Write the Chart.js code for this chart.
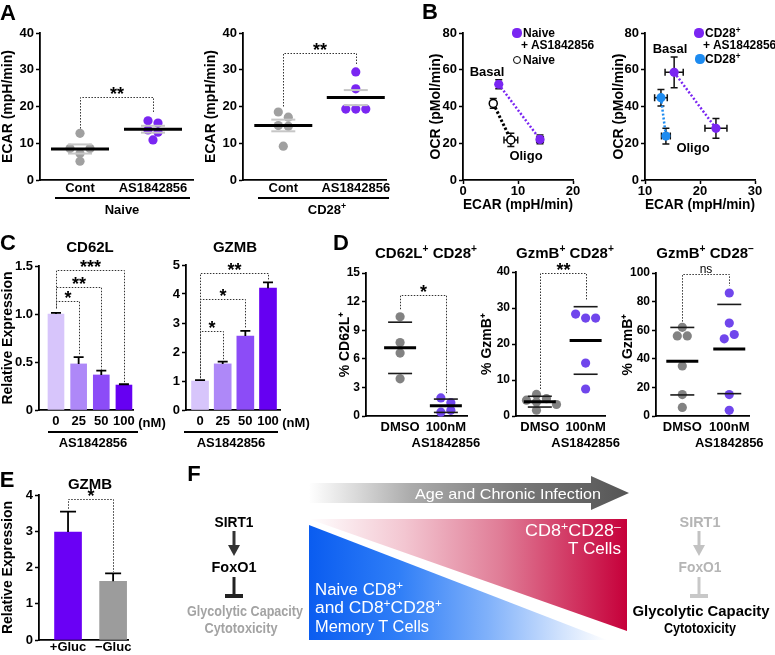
<!DOCTYPE html>
<html>
<head>
<meta charset="utf-8">
<script src="https://cdn.jsdelivr.net/npm/chart.js@4.4.1/dist/chart.umd.min.js"></script>
<style>
  body { margin: 0; background: #fff; }
  #fig { position: relative; width: 775px; height: 655px; overflow: hidden; font-family: "Liberation Sans", Arial, Helvetica, sans-serif; color: #000; }
  canvas { position: absolute; }
  .t { position: absolute; white-space: nowrap; line-height: 1; font-weight: bold; }
  .ul { position: absolute; height: 2px; background: #000; }
  .dot { position: absolute; border-radius: 50%; box-sizing: border-box; }
  sup { font-size: 68%; line-height: 0; vertical-align: 0.5em; }
</style>
</head>
<body>
<div id="fig">
  <canvas id="a1"></canvas><canvas id="a2"></canvas>
  <canvas id="b1"></canvas><canvas id="b2"></canvas>
  <canvas id="c1"></canvas><canvas id="c2"></canvas>
  <canvas id="d1"></canvas><canvas id="d2"></canvas><canvas id="d3"></canvas>
  <canvas id="e1"></canvas>

  <!-- F: schematic -->
  <svg width="775" height="655" style="position:absolute;left:0;top:0" font-family="Liberation Sans, Arial, sans-serif">
    <defs>
      <linearGradient id="gArrow" gradientUnits="userSpaceOnUse" x1="309" y1="0" x2="629" y2="0">
        <stop offset="0" stop-color="#ffffff"/><stop offset="0.15" stop-color="#d9d9d9"/>
        <stop offset="0.32" stop-color="#ababab"/><stop offset="0.64" stop-color="#7a7a7a"/>
        <stop offset="1" stop-color="#555555"/>
      </linearGradient>
      <linearGradient id="gBlue" gradientUnits="userSpaceOnUse" x1="309" y1="0" x2="607" y2="0">
        <stop offset="0" stop-color="#0a5cf0"/><stop offset="0.3" stop-color="#2f7ef7"/>
        <stop offset="0.6" stop-color="#80b1fa"/><stop offset="0.85" stop-color="#d2e3fd"/>
        <stop offset="1" stop-color="#ffffff"/>
      </linearGradient>
      <linearGradient id="gRed" gradientUnits="userSpaceOnUse" x1="309" y1="0" x2="627" y2="0">
        <stop offset="0" stop-color="#ffffff"/><stop offset="0.3" stop-color="#f3c6d1"/>
        <stop offset="0.6" stop-color="#e07d97"/><stop offset="1" stop-color="#c6003a"/>
      </linearGradient>
    </defs>
    <polygon points="309,483 591,483 591,476 629,493 591,510 591,503 309,503" fill="url(#gArrow)"/>
    <text x="508" y="498.5" fill="#fff" font-size="15" text-anchor="middle" textLength="186" lengthAdjust="spacingAndGlyphs">Age and Chronic Infection</text>

    <polygon points="309,519 627,519 627,631" fill="url(#gRed)"/>
    <polygon points="309,525 309,640 607,640" fill="url(#gBlue)"/>
    <text x="621" y="535.7" fill="#fff" font-size="16" text-anchor="end" textLength="96" lengthAdjust="spacingAndGlyphs">CD8<tspan dy="-6" font-size="11">+</tspan><tspan dy="6">CD28</tspan><tspan dy="-6" font-size="11">&#8211;</tspan></text>
    <text x="621" y="553.7" fill="#fff" font-size="16" text-anchor="end" textLength="53" lengthAdjust="spacingAndGlyphs">T Cells</text>
    <text x="315" y="594.7" fill="#fff" font-size="16" textLength="88" lengthAdjust="spacingAndGlyphs">Naive CD8<tspan dy="-6" font-size="11">+</tspan></text>
    <text x="315" y="612.7" fill="#fff" font-size="16" textLength="127" lengthAdjust="spacingAndGlyphs">and CD8<tspan dy="-6" font-size="11">+</tspan><tspan dy="6">CD28</tspan><tspan dy="-6" font-size="11">+</tspan></text>
    <text x="315" y="631.7" fill="#fff" font-size="16" textLength="114" lengthAdjust="spacingAndGlyphs">Memory T Cells</text>

    <!-- left pathway -->
    <g font-weight="bold" font-size="15" text-anchor="middle">
      <text x="234" y="527.4" fill="#000" textLength="39" lengthAdjust="spacingAndGlyphs">SIRT1</text>
      <line x1="234" y1="531" x2="234" y2="546" stroke="#333" stroke-width="3"/>
      <polygon points="228,545 240,545 234,556" fill="#333"/>
      <text x="234" y="572.4" fill="#000" textLength="45" lengthAdjust="spacingAndGlyphs">FoxO1</text>
      <line x1="234" y1="577" x2="234" y2="595" stroke="#222" stroke-width="3"/>
      <rect x="225" y="594" width="18" height="4" fill="#222"/>
      <text x="245" y="616.4" fill="#a3a3a3" textLength="116" lengthAdjust="spacingAndGlyphs">Glycolytic Capacity</text>
      <text x="241" y="633.4" fill="#a3a3a3" textLength="73" lengthAdjust="spacingAndGlyphs">Cytotoxicity</text>

      <!-- right pathway -->
      <text x="700" y="527.4" fill="#b5b5b5" textLength="41" lengthAdjust="spacingAndGlyphs">SIRT1</text>
      <line x1="699" y1="531" x2="699" y2="546" stroke="#c2c2c2" stroke-width="3"/>
      <polygon points="693,545 705,545 699,556" fill="#c2c2c2"/>
      <text x="700" y="572.4" fill="#b5b5b5" textLength="43" lengthAdjust="spacingAndGlyphs">FoxO1</text>
      <line x1="699" y1="577" x2="699" y2="595" stroke="#c8c8c8" stroke-width="3"/>
      <rect x="690" y="594" width="18" height="4" fill="#c8c8c8"/>
      <text x="701" y="616.4" fill="#000" textLength="137" lengthAdjust="spacingAndGlyphs">Glycolytic Capacity</text>
      <text x="700" y="633.4" fill="#000" textLength="72" lengthAdjust="spacingAndGlyphs">Cytotoxicity</text>
    </g>
  </svg>
</div>

<script>
// ---- data ----
// A: ECAR per sample
const aGroups = ['Cont', 'AS1842856'];
const aNaiveCont = [12.7, 7.2, 8.6, 8.6, 5.1];
const aNaiveAS = [16.1, 15.5, 13.6, 13.0, 10.9];
const aCD28Cont = [18.5, 17.1, 14.8, 14.6, 9.2];
const aCD28AS = [29.4, 24.8, 19.3, 19.3, 19.3];

// B: ECAR (x) vs OCR (y), basal then oligo, with errors
const bNaiveASX = [6.5, 14.0], bNaiveASY = [52.1, 22.1], bNaiveASEx = [0.3, 0.6], bNaiveASEy = [2.5, 2.4];
const bNaiveX = [5.5, 8.7], bNaiveY = [41.7, 21.8], bNaiveEx = [0.3, 1.25], bNaiveEy = [2.7, 3.6];
const bCD28ASX = [15.3, 22.9], bCD28ASY = [58.6, 28.1], bCD28ASEx = [1.65, 2.0], bCD28ASEy = [8.4, 5.4];
const bCD28X = [12.9, 13.8], bCD28Y = [44.8, 23.9], bCD28Ex = [1.15, 0.8], bCD28Ey = [4.5, 4.3];

// C: relative expression by dose
const doses = ['0', '25', '50', '100'];
const cd62lVals = [1.0, 0.48, 0.365, 0.26], cd62lErr = [0.012, 0.07, 0.045, 0.008];
const gzmbVals = [1.0, 1.59, 2.55, 4.2], gzmbErr = [0.03, 0.08, 0.18, 0.2];

// D: % positive cells
const dGroups = ['DMSO', ['100nM', 'AS1842856']];
const dCD62LDmso = [10.4, 7.7, 6.6, 3.9], dCD62LAS = [1.9, 1.4, 0.4, 0.6];
const dGzmbPosDmso = [6.0, 4.8, 4.4, 3.9, 3.2, 1.6], dGzmbPosAS = [27.2, 27.2, 28.3, 14.7, 7.5];
const dGzmbNegDmso = [62, 56, 56, 35, 15, 6], dGzmbNegAS = [86, 65, 54, 57, 15, 4];

// E: GZMB with / without glucose
const eGroups = ['+Gluc', '\u2212Gluc'];
const eVals = [2.98, 1.62], eErr = [0.56, 0.22];

// significance brackets (data units)
const sigA1 = [{ x1: 0, x2: 1, top: 22.6, y1: 14.0, y2: 18.2, text: '**' }];
const sigA2 = [{ x1: 0, x2: 1, top: 34.6, y1: 20.0, y2: 31.5, text: '**' }];
const sigC1 = [
  { x1: 0, x2: 1, top: 1.135, y1: 1.06, y2: 0.57, text: '*' },
  { x1: 0, x2: 2, top: 1.28, y1: 1.06, y2: 0.42, text: '**' },
  { x1: 0, x2: 3, top: 1.46, y1: 1.06, y2: 0.29, text: '***' }
];
const sigC2 = [
  { x1: 0, x2: 1, top: 2.72, y1: 1.1, y2: 1.75, text: '*' },
  { x1: 0, x2: 2, top: 3.83, y1: 1.1, y2: 2.8, text: '*' },
  { x1: 0, x2: 3, top: 4.72, y1: 1.1, y2: 4.45, text: '**' }
];
const sigD1 = [{ x1: 0, x2: 1, top: 12.7, y1: 11.2, y2: 2.4, text: '*' }];
const sigD2 = [{ x1: 0, x2: 1, top: 39.7, y1: 7.5, y2: 32, text: '**' }];
const sigD3 = [{ x1: 0, x2: 1, top: 99, y1: 66, y2: 91, text: 'ns' }];
const sigE = [{ x1: 0, x2: 1, top: 3.9, y1: 3.62, y2: 1.88, text: '*' }];

const FONT = '"Liberation Sans", Arial, Helvetica, sans-serif';
const PURPLE = '#7a26f2', GRAY = '#a0a0a0', BLUE = '#1d8bf0', DPURPLE = '#7046ec', DGRAY = '#828282';
const barColors = ['#d7c5fb', '#ae88f8', '#8c4cf7', '#6600f2'];
const eColors = ['#6a00f5', '#9c9c9c'];

Chart.defaults.font.family = FONT;
Chart.defaults.color = '#000';
Chart.defaults.animation = false;
Chart.defaults.events = [];
Chart.defaults.plugins.legend.display = false;
Chart.defaults.plugins.tooltip.enabled = false;

// extras drawn on top of the library's scales, keyed by canvas id
const EXTRA = {};
Chart.register({
  id: 'marks',
  beforeDatasetsDraw(chart) {
    const e = EXTRA[chart.canvas.id];
    if (!e || !e.xy) return;
    const { ctx, scales: { x, y } } = chart;
    ctx.save();
    ctx.strokeStyle = '#111'; ctx.lineWidth = 1.5; ctx.beginPath();
    e.xy.forEach(p => {
      const px = x.getPixelForValue(p.x), py = y.getPixelForValue(p.y);
      const l = x.getPixelForValue(p.x - p.ex), r = x.getPixelForValue(p.x + p.ex);
      const t = y.getPixelForValue(p.y + p.ey), b = y.getPixelForValue(p.y - p.ey);
      ctx.moveTo(l, py); ctx.lineTo(r, py); ctx.moveTo(px, t); ctx.lineTo(px, b);
      ctx.moveTo(l, py - 3.5); ctx.lineTo(l, py + 3.5); ctx.moveTo(r, py - 3.5); ctx.lineTo(r, py + 3.5);
      ctx.moveTo(px - 3.5, t); ctx.lineTo(px + 3.5, t); ctx.moveTo(px - 3.5, b); ctx.lineTo(px + 3.5, b);
    });
    ctx.stroke();
    ctx.restore();
  },
  afterDatasetsDraw(chart) {
    const e = EXTRA[chart.canvas.id];
    if (!e) return;
    const { ctx, scales: { x, y } } = chart;
    const hline = (cx, w, py, color, lw) => {
      ctx.strokeStyle = color; ctx.lineWidth = lw;
      ctx.beginPath(); ctx.moveTo(cx - w, py); ctx.lineTo(cx + w, py); ctx.stroke();
    };
    ctx.save();
    // mean with SEM / SD
    if (e.stat) chart.data.datasets.forEach(ds => {
      if (!ds.vals) return;
      const n = ds.vals.length, m = ds.vals.reduce((a, b) => a + b, 0) / n;
      const sd = Math.sqrt(ds.vals.reduce((a, v) => a + (v - m) ** 2, 0) / (n - 1));
      const s = e.stat === 'sem' ? sd / Math.sqrt(n) : sd;
      const cx = x.getPixelForValue(ds.cx);
      [m + s, m - s].forEach(v => hline(cx, e.sdW, y.getPixelForValue(v), e.sdColor, e.sdLw));
      hline(cx, e.meanW, y.getPixelForValue(m), '#000', 3);
    });
    // bar error (upper only)
    if (e.bar) e.bar.vals.forEach((v, i) => {
      const px = x.getPixelForValue(i), top = y.getPixelForValue(v), tip = y.getPixelForValue(v + e.bar.err[i]);
      ctx.strokeStyle = '#000'; ctx.lineWidth = 1.8;
      ctx.beginPath(); ctx.moveTo(px, top); ctx.lineTo(px, tip);
      ctx.moveTo(px - e.bar.cap, tip); ctx.lineTo(px + e.bar.cap, tip); ctx.stroke();
    });
    // dotted significance brackets
    (e.brackets || []).forEach(b => {
      const X1 = Math.round(x.getPixelForValue(b.x1)) + 0.5, X2 = Math.round(x.getPixelForValue(b.x2)) + 0.5;
      const T = Math.round(y.getPixelForValue(b.top)) + 0.5;
      ctx.save();
      ctx.setLineDash([1.5, 1.5]); ctx.strokeStyle = '#333'; ctx.lineWidth = 1;
      ctx.beginPath();
      ctx.moveTo(X1, y.getPixelForValue(b.y1)); ctx.lineTo(X1, T); ctx.lineTo(X2, T); ctx.lineTo(X2, y.getPixelForValue(b.y2));
      ctx.stroke();
      ctx.restore();
      ctx.fillStyle = '#000'; ctx.textAlign = 'center';
      if (b.text === 'ns') {
        ctx.font = '12px ' + FONT; ctx.textBaseline = 'bottom';
        ctx.fillText('ns', (X1 + X2) / 2, T + 1);
      } else {
        ctx.font = 'bold 18px ' + FONT; ctx.textBaseline = 'alphabetic';
        ctx.fillText(b.text, (X1 + X2) / 2, T + 2);
      }
    });
    ctx.restore();
  }
});

// size a canvas so that its chart area lands on the given page box
function place(id, area, yw, xh, pt, pr) {
  const c = document.getElementById(id);
  const left = area[0] - yw, top = area[2] - pt;
  c.width = area[1] - left + pr;
  c.height = area[3] - top + xh;
  c.style.left = left + 'px';
  c.style.top = top + 'px';
  return { padding: { top: pt, right: pr, left: 0, bottom: 0 } };
}

function opts(layout, x, y) {
  return { responsive: false, maintainAspectRatio: false, animation: false, layout, scales: { x, y } };
}

function yAxis(min, max, step, yw, title, size, tsize, fmt) {
  return {
    min, max,
    afterFit: s => { s.width = yw; },
    ticks: { stepSize: step, padding: 2, font: { size, weight: 'bold' }, callback: fmt || (v => v) },
    grid: { drawOnChartArea: false, tickLength: 4, tickWidth: 1.5, tickColor: '#000' },
    border: { color: '#000', width: 1.8 },
    title: { display: !!title, text: title || '', padding: 0, font: { size: tsize, weight: 'bold' } }
  };
}

function xGroups(min, max, labels, xh, pad) {
  return {
    type: 'linear', min, max, offset: false,
    afterFit: s => { s.height = xh; },
    afterBuildTicks: s => { s.ticks = labels.map((l, i) => ({ value: i })); },
    ticks: { autoSkip: false, maxRotation: 0, minRotation: 0, padding: pad, font: { size: 13, weight: 'bold' }, callback: v => labels[Math.round(v)] },
    grid: { display: false, drawTicks: false },
    border: { color: '#000', width: 1.8 }
  };
}

function xLinear(min, max, xh) {
  return {
    type: 'linear', min, max, offset: false,
    afterFit: s => { s.height = xh; },
    ticks: { stepSize: 10, padding: 0, font: { size: 13, weight: 'bold' } },
    grid: { drawOnChartArea: false, tickLength: 4, tickWidth: 1.5, tickColor: '#000' },
    border: { color: '#000', width: 1.8 },
    title: { display: true, text: 'ECAR (mpH/min)', padding: 0, font: { size: 14, weight: 'bold' } }
  };
}

function dots(vals, cx, color) {
  return { vals, cx, data: vals.map(v => ({ x: cx, y: v })), pointRadius: 4.6, pointHoverRadius: 4.6,
           pointBackgroundColor: color, pointBorderWidth: 0, clip: false };
}

function pts(xs, ys) { return xs.map((x, i) => ({ x, y: ys[i] })); }
function xyErr(xs, ys, exs, eys) { return xs.map((x, i) => ({ x, y: ys[i], ex: exs[i], ey: eys[i] })); }

// spread overlapping dots sideways (beeswarm), then centre each touching cluster
function swarm(chart, step = 10, thr = 7.5) {
  const xs = chart.scales.x, ys = chart.scales.y;
  const unit = step / (xs.getPixelForValue(1) - xs.getPixelForValue(0));
  chart.data.datasets.forEach(ds => {
    if (!ds.vals) return;
    const py = ds.vals.map(v => ys.getPixelForValue(v));
    const off = [];
    py.forEach(p => {
      for (const k of [0, 1, -1, 2, -2, 3, -3]) {
        if (off.every((o, j) => Math.hypot((k - o) * step, p - py[j]) >= thr)) { off.push(k); return; }
      }
      off.push(0);
    });
    const idx = py.map((p, i) => i).sort((a, b) => py[a] - py[b]);
    let grp = [idx[0]];
    const flush = () => { const m = grp.reduce((s, i) => s + off[i], 0) / grp.length; grp.forEach(i => { off[i] -= m; }); };
    for (let n = 1; n < idx.length; n++) {
      if (py[idx[n]] - py[idx[n - 1]] < thr) grp.push(idx[n]);
      else { flush(); grp = [idx[n]]; }
    }
    flush();
    ds.data = ds.vals.map((v, i) => ({ x: ds.cx + off[i] * unit, y: v }));
  });
  chart.update('none');
}

// ---- A ----
EXTRA.a1 = { stat: 'sem', meanW: 29, sdW: 12, sdColor: '#c6c6c6', sdLw: 2, brackets: sigA1 };
const a1 = new Chart('a1', {
  type: 'scatter',
  data: { datasets: [dots(aNaiveCont, 0, GRAY), dots(aNaiveAS, 1, PURPLE)] },
  options: opts(place('a1', [40, 193, 33, 180], 40, 18, 13, 8),
    xGroups(-0.548, 1.548, aGroups, 18, 1), yAxis(0, 40, 10, 40, 'ECAR (mpH/min)', 13, 14))
});
swarm(a1);

EXTRA.a2 = { stat: 'sem', meanW: 29, sdW: 12, sdColor: '#c6c6c6', sdLw: 2, brackets: sigA2 };
const a2 = new Chart('a2', {
  type: 'scatter',
  data: { datasets: [dots(aCD28Cont, 0, GRAY), dots(aCD28AS, 1, PURPLE)] },
  options: opts(place('a2', [243, 386, 33, 180], 40, 18, 13, 8),
    xGroups(-0.556, 1.417, aGroups, 18, 1), yAxis(0, 40, 10, 40, 'ECAR (mpH/min)', 13, 14))
});
swarm(a2);

// ---- B ----
EXTRA.b1 = { xy: xyErr(bNaiveASX, bNaiveASY, bNaiveASEx, bNaiveASEy).concat(xyErr(bNaiveX, bNaiveY, bNaiveEx, bNaiveEy)) };
new Chart('b1', {
  type: 'scatter',
  data: { datasets: [
    { data: pts(bNaiveASX, bNaiveASY), showLine: true, borderColor: PURPLE, borderWidth: 2.5, borderDash: [2, 2],
      pointRadius: 4.6, pointBackgroundColor: PURPLE, pointBorderWidth: 0, clip: false },
    { data: pts(bNaiveX, bNaiveY), showLine: true, borderColor: '#000', borderWidth: 3, borderDash: [2.5, 2],
      pointRadius: 4, pointBackgroundColor: '#fff', pointBorderColor: '#000', pointBorderWidth: 1.5, clip: false }
  ] },
  options: opts(place('b1', [463, 573, 33, 180], 35, 34, 13, 14),
    xLinear(0, 20, 34), yAxis(0, 80, 20, 35, 'OCR (pMol/min)', 13, 14))
});

EXTRA.b2 = { xy: xyErr(bCD28ASX, bCD28ASY, bCD28ASEx, bCD28ASEy).concat(xyErr(bCD28X, bCD28Y, bCD28Ex, bCD28Ey)) };
new Chart('b2', {
  type: 'scatter',
  data: { datasets: [
    { data: pts(bCD28ASX, bCD28ASY), showLine: true, borderColor: PURPLE, borderWidth: 2.5, borderDash: [2, 2],
      pointRadius: 4.6, pointBackgroundColor: PURPLE, pointBorderWidth: 0, clip: false },
    { data: pts(bCD28X, bCD28Y), showLine: true, borderColor: BLUE, borderWidth: 2.5, borderDash: [2, 2],
      pointRadius: 4.6, pointBackgroundColor: BLUE, pointBorderWidth: 0, clip: false }
  ] },
  options: opts(place('b2', [645, 755, 33, 180], 34, 34, 13, 14),
    xLinear(10, 30, 34), yAxis(0, 80, 20, 34, 'OCR (pMol/min)', 13, 14))
});

// ---- C ----
const fmt1 = v => (v === 0 ? '0' : v.toFixed(1));
EXTRA.c1 = { bar: { vals: cd62lVals, err: cd62lErr, cap: 5 }, brackets: sigC1 };
new Chart('c1', {
  type: 'bar',
  data: { datasets: [{ data: cd62lVals.map((v, i) => ({ x: i, y: v })), backgroundColor: barColors, barThickness: 16 }] },
  options: opts(place('c1', [39, 133, 266, 410], 39, 22, 20, 8),
    xGroups(-0.75, 3.4, doses, 22, 4), yAxis(0, 1.5, 0.5, 39, 'Relative Expression', 13, 14, fmt1))
});

EXTRA.c2 = { bar: { vals: gzmbVals, err: gzmbErr, cap: 5 }, brackets: sigC2 };
new Chart('c2', {
  type: 'bar',
  data: { datasets: [{ data: gzmbVals.map((v, i) => ({ x: i, y: v })), backgroundColor: barColors, barThickness: 17 }] },
  options: opts(place('c2', [186, 280, 265, 410], 20, 22, 20, 8),
    xGroups(-0.62, 3.53, doses, 22, 4), yAxis(0, 5, 1, 20, '', 13, 14))
});

// ---- D ----
const dExtra = br => ({ stat: 'sd', meanW: 16, sdW: 12, sdColor: '#1a1a1a', sdLw: 1.6, brackets: br });
EXTRA.d1 = dExtra(sigD1);
const d1 = new Chart('d1', {
  type: 'scatter',
  data: { datasets: [dots(dCD62LDmso, 0, DGRAY), dots(dCD62LAS, 1, DPURPLE)] },
  options: opts(place('d1', [366, 470, 273, 416], 29, 38, 23, 18),
    xGroups(-0.745, 1.468, dGroups, 38, 4), yAxis(0, 15, 3, 29, '% CD62L\u207A', 12, 14))
});
swarm(d1);

EXTRA.d2 = dExtra(sigD2);
const d2 = new Chart('d2', {
  type: 'scatter',
  data: { datasets: [dots(dGzmbPosDmso, 0, DGRAY), dots(dGzmbPosAS, 1, DPURPLE)] },
  options: opts(place('d2', [516, 610, 272, 416], 37, 38, 22, 18),
    xGroups(-0.52, 1.44, dGroups, 38, 4), yAxis(0, 40, 10, 37, '% GzmB\u207A', 12, 14))
});
swarm(d2);

EXTRA.d3 = dExtra(sigD3);
const d3 = new Chart('d3', {
  type: 'scatter',
  data: { datasets: [dots(dGzmbNegDmso, 0, DGRAY), dots(dGzmbNegAS, 1, DPURPLE)] },
  options: opts(place('d3', [656, 752, 273, 416], 36, 38, 23, 20),
    xGroups(-0.56, 1.44, dGroups, 38, 4), yAxis(0, 100, 20, 36, '% GzmB\u207A', 12, 14))
});
swarm(d3);

// ---- E ----
EXTRA.e1 = { bar: { vals: eVals, err: eErr, cap: 8 }, brackets: sigE };
new Chart('e1', {
  type: 'bar',
  data: { datasets: [{ data: eVals.map((v, i) => ({ x: i, y: v })), backgroundColor: eColors, barThickness: 27 }] },
  options: opts(place('e1', [39, 128, 495, 640], 39, 15, 15, 10),
    xGroups(-0.644, 1.33, eGroups, 15, 0), yAxis(0, 4, 1, 39, 'Relative Expression', 13, 14))
});

// ---- text, rules and legend swatches ----
const fig = document.getElementById('fig');
function lab(html, x, y, o = {}) {
  const d = document.createElement('div');
  d.className = 't';
  d.innerHTML = html;
  d.style.fontSize = (o.size || 13) + 'px';
  d.style.left = x + 'px';
  d.style.top = y + 'px';
  const ax = o.align === 'left' ? '0' : '-50%';
  d.style.transform = 'translate(' + ax + ',-50%)';
  fig.appendChild(d);
}
function rule(x1, x2, y) {
  const d = document.createElement('div');
  d.className = 'ul';
  d.style.left = x1 + 'px'; d.style.top = y + 'px'; d.style.width = (x2 - x1) + 'px';
  fig.appendChild(d);
}
function swatch(x, y, r, fill, stroke) {
  const d = document.createElement('div');
  d.className = 'dot';
  d.style.left = (x - r) + 'px'; d.style.top = (y - r) + 'px';
  d.style.width = d.style.height = (2 * r) + 'px';
  d.style.background = fill;
  if (stroke) d.style.border = '1.5px solid ' + stroke;
  fig.appendChild(d);
}

['A', 'B', 'C', 'D', 'E', 'F'].forEach((l, i) => {
  const at = [[8, 13], [430, 12], [8, 243], [341, 243], [7, 480], [194, 474]][i];
  lab(l, at[0], at[1], { size: 22 });
});

rule(55, 190, 197); lab('Naive', 122, 209);
rule(258, 389, 197); lab('CD28<sup>+</sup>', 327, 209);

swatch(517, 33, 4.6, PURPLE); lab('Naive', 523, 33, { align: 'left', size: 12 });
lab('+ AS1842856', 521, 45, { align: 'left', size: 12 });
swatch(517, 60, 4, '#fff', '#000'); lab('Naive', 523, 60, { align: 'left', size: 12 });
lab('Basal', 487, 71); lab('Oligo', 526, 155);

swatch(699, 33, 4.6, PURPLE); lab('CD28<sup>+</sup>', 705, 33, { align: 'left', size: 12 });
lab('+ AS1842856', 703, 45, { align: 'left', size: 12 });
swatch(700, 59, 4.6, BLUE); lab('CD28<sup>+</sup>', 705, 59, { align: 'left', size: 12 });
lab('Basal', 670, 48); lab('Oligo', 693, 147);

lab('CD62L', 90, 246, { size: 15 }); lab('GZMB', 235, 246, { size: 15 });
lab('(nM)', 152, 422); lab('(nM)', 296, 422);
rule(48, 138, 431); rule(184, 278, 431);
lab('AS1842856', 93, 442); lab('AS1842856', 231, 442);

lab('CD62L<sup>+</sup> CD28<sup>+</sup>', 426, 252, { size: 15 });
lab('GzmB<sup>+</sup> CD28<sup>+</sup>', 565, 252, { size: 15 });
lab('GzmB<sup>+</sup> CD28<sup>&ndash;</sup>', 705, 252, { size: 15 });

lab('GZMB', 90, 483, { size: 15 });
</script>
</body>
</html>
